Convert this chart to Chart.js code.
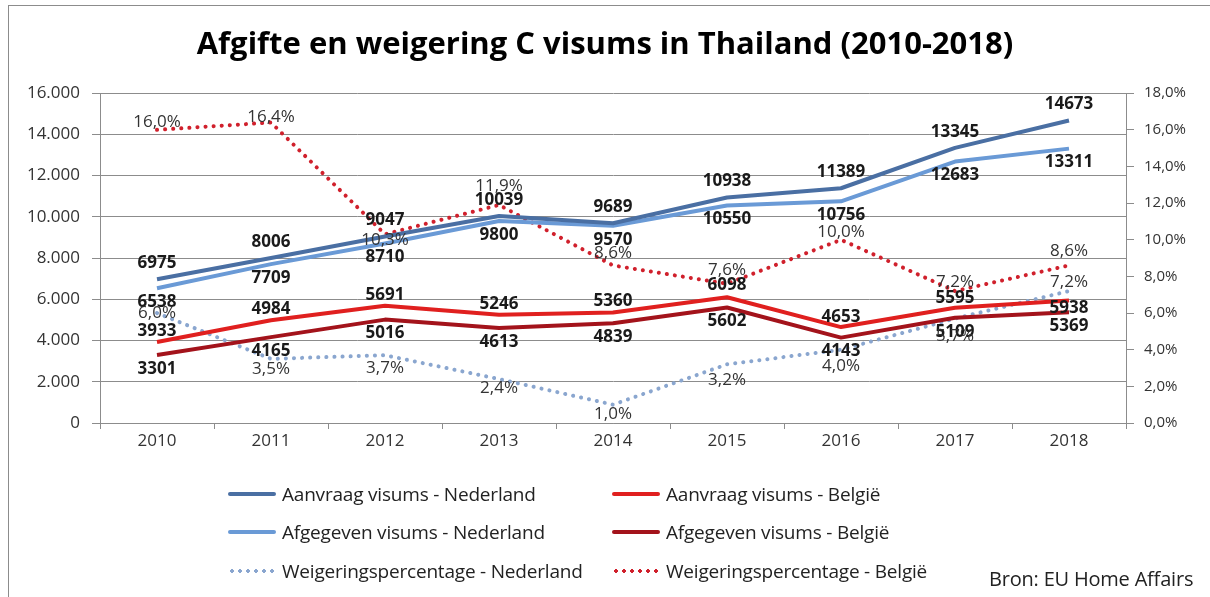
<!DOCTYPE html>
<html>
<head>
<meta charset="utf-8">
<title>Afgifte en weigering C visums in Thailand</title>
<script src="https://cdn.jsdelivr.net/npm/chart.js@4.4.1/dist/chart.umd.min.js"></script>
<style>
  html, body { margin: 0; padding: 0; background: #fff; overflow: hidden; }
  #wrap { position: relative; width: 1210px; height: 597px; font-family: "Open Sans", sans-serif; }
  #frame { position: absolute; left: 8px; top: 5px; width: 1300px; height: 700px; border: 1px solid #8c8c8c; }
  #c { position: absolute; left: 0; top: 0; }
  .lg { position: absolute; display: flex; align-items: center; font-size: 19px; color: #222; white-space: nowrap; height: 26px; letter-spacing: -0.2px; }
  .sw { display: inline-block; width: 48px; height: 4px; margin-right: 6px; }
  .dot { height: 4px; background-size: 8px 4px; background-repeat: repeat-x; }
  #src { position: absolute; left: 989px; top: 565px; font-size: 20px; color: #222; letter-spacing: -0.2px; }
</style>
</head>
<body>
<div id="wrap">
  <div id="frame"></div>
  <canvas id="c" width="1210" height="597"></canvas>
  <div id="legend"></div>
  <div id="src">Bron: EU Home Affairs</div>
</div>
<script>
// data
var years = ["2010", "2011", "2012", "2013", "2014", "2015", "2016", "2017", "2018"];
var aanvraagNL = [6975, 8006, 9047, 10039, 9689, 10938, 11389, 13345, 14673];
var afgegevenNL = [6538, 7709, 8710, 9800, 9570, 10550, 10756, 12683, 13311];
var aanvraagBE = [3933, 4984, 5691, 5246, 5360, 6098, 4653, 5595, 5938];
var afgegevenBE = [3301, 4165, 5016, 4613, 4839, 5602, 4143, 5109, 5369];
var weigeringNL = [6.0, 3.5, 3.7, 2.4, 1.0, 3.2, 4.0, 5.7, 7.2];
var weigeringBE = [16.0, 16.4, 10.3, 11.9, 8.6, 7.6, 10.0, 7.2, 8.6];

var leftTicks = [0, 2000, 4000, 6000, 8000, 10000, 12000, 14000, 16000];
var rightTicks = [0, 2, 4, 6, 8, 10, 12, 14, 16, 18];

var FONT = '"Open Sans", sans-serif';

function fmtThousands(v) {
    return String(v).replace(/\B(?=(\d{3})+(?!\d))/g, ".");
}
function fmtPct(v) {
    return v.toFixed(1).replace(".", ",") + "%";
}

var series = [
    { label: "Aanvraag visums - Nederland", data: aanvraagNL, color: "#4a6fa3", axis: "y", dy: -16, pct: false },
    { label: "Aanvraag visums - België", data: aanvraagBE, color: "#e0201f", axis: "y", dy: [-11, -11, -11, -11, -11, -12, -10, -10, 8], pct: false },
    { label: "Afgegeven visums  - Nederland", data: afgegevenNL, color: "#6a9ad6", axis: "y", dy: 14, pct: false },
    { label: "Afgegeven visums  - België", data: afgegevenBE, color: "#a3131b", axis: "y", dy: 14, pct: false },
    { label: "Weigeringspercentage - Nederland", data: weigeringNL, color: "#8aa6cf", axis: "y1", dy: [0, 10, 13, 9, 9, 16, 16, 18, -9], pct: true },
    { label: "Weigeringspercentage - België", data: weigeringBE, color: "#d0202c", axis: "y1", dy: [-8, -5, 6, -19, -12, -14, -8, -9, -14], pct: true }
];

var datasets = series.map(function (s) {
    return {
        label: s.label,
        data: s.data,
        yAxisID: s.axis,
        borderColor: s.color,
        backgroundColor: s.color,
        borderWidth: 4,
        borderDash: s.pct ? [0.1, 8] : [],
        borderCapStyle: s.pct ? "round" : "butt",
        borderJoinStyle: "round",
        pointRadius: 0,
        pointHoverRadius: 0,
        tension: 0,
        fill: false,
        labelDy: s.dy,
        isPct: s.pct
    };
});

// draws the value next to every point, offset up or down
var valueLabels = {
    id: "valueLabels",
    afterDatasetsDraw: function (chart) {
        var ctx = chart.ctx;
        ctx.save();
        ctx.textAlign = "center";
        ctx.textBaseline = "middle";
        chart.data.datasets.forEach(function (ds, i) {
            var meta = chart.getDatasetMeta(i);
            ctx.font = ds.isPct ? "17px " + FONT : "bold 17px " + FONT;
            ctx.fillStyle = ds.isPct ? "#333" : "#1a1a1a";
            meta.data.forEach(function (pt, j) {
                var dy = Array.isArray(ds.labelDy) ? ds.labelDy[j] : ds.labelDy;
                var v = ds.data[j];
                ctx.fillText(ds.isPct ? fmtPct(v) : String(v), pt.x, pt.y + dy);
            });
        });
        ctx.restore();
    }
};

var gridGray = "#8c8c8c";

new Chart(document.getElementById("c"), {
    type: "line",
    data: { labels: years, datasets: datasets },
    plugins: [valueLabels],
    options: {
        responsive: false,
        animation: false,
        layout: { padding: { left: 10, right: 10, top: 0, bottom: 144 } },
        plugins: {
            legend: { display: false },
            tooltip: { enabled: false },
            title: {
                display: true,
                text: "Afgifte en weigering C visums in Thailand (2010-2018)",
                color: "#000",
                font: { family: FONT, size: 31, weight: "bold", lineHeight: 1.2 },
                padding: { top: 27, bottom: 29 }
            }
        },
        scales: {
            x: {
                offset: true,
                grid: { display: true, drawOnChartArea: false, offset: true, tickLength: 6, color: gridGray },
                border: { display: true, color: gridGray },
                ticks: { color: "#333", font: { family: FONT, size: 17 }, padding: 2, maxRotation: 0 },
                afterFit: function (s) { s.height = 30; }
            },
            y: {
                position: "left",
                min: 0,
                max: 16000,
                afterBuildTicks: function (s) { s.ticks = leftTicks.map(function (v) { return { value: v }; }); },
                grid: { color: gridGray, tickLength: 8 },
                border: { display: true, color: gridGray },
                ticks: { color: "#333", font: { family: FONT, size: 17 }, padding: 12, callback: function (v) { return fmtThousands(v); } },
                afterFit: function (s) { s.width = 90; }
            },
            y1: {
                position: "right",
                min: 0,
                max: 18,
                afterBuildTicks: function (s) { s.ticks = rightTicks.map(function (v) { return { value: v }; }); },
                grid: { drawOnChartArea: false, color: gridGray, tickLength: 8 },
                border: { display: true, color: gridGray },
                ticks: { color: "#333", font: { family: FONT, size: 15 }, padding: 10, callback: function (v) { return fmtPct(v); } },
                afterFit: function (s) { s.width = 74; }
            }
        }
    }
});

// legend below the plot, two columns as in the reference
var legendPos = [[228, 481], [612, 481], [228, 519], [612, 519], [228, 558], [612, 558]];
var lg = document.getElementById("legend");
series.forEach(function (s, i) {
    var d = document.createElement("div");
    d.className = "lg";
    d.style.left = legendPos[i][0] + "px";
    d.style.top = legendPos[i][1] + "px";
    var sw = document.createElement("span");
    if (s.pct) {
        sw.className = "sw dot";
        sw.style.backgroundImage = "radial-gradient(circle at 4px 2px, " + s.color + " 1.6px, transparent 2.1px)";
    } else {
        sw.className = "sw";
        sw.style.background = s.color;
        sw.style.borderRadius = "2px";
    }
    d.appendChild(sw);
    d.appendChild(document.createTextNode(s.label));
    lg.appendChild(d);
});
</script>
</body>
</html>
